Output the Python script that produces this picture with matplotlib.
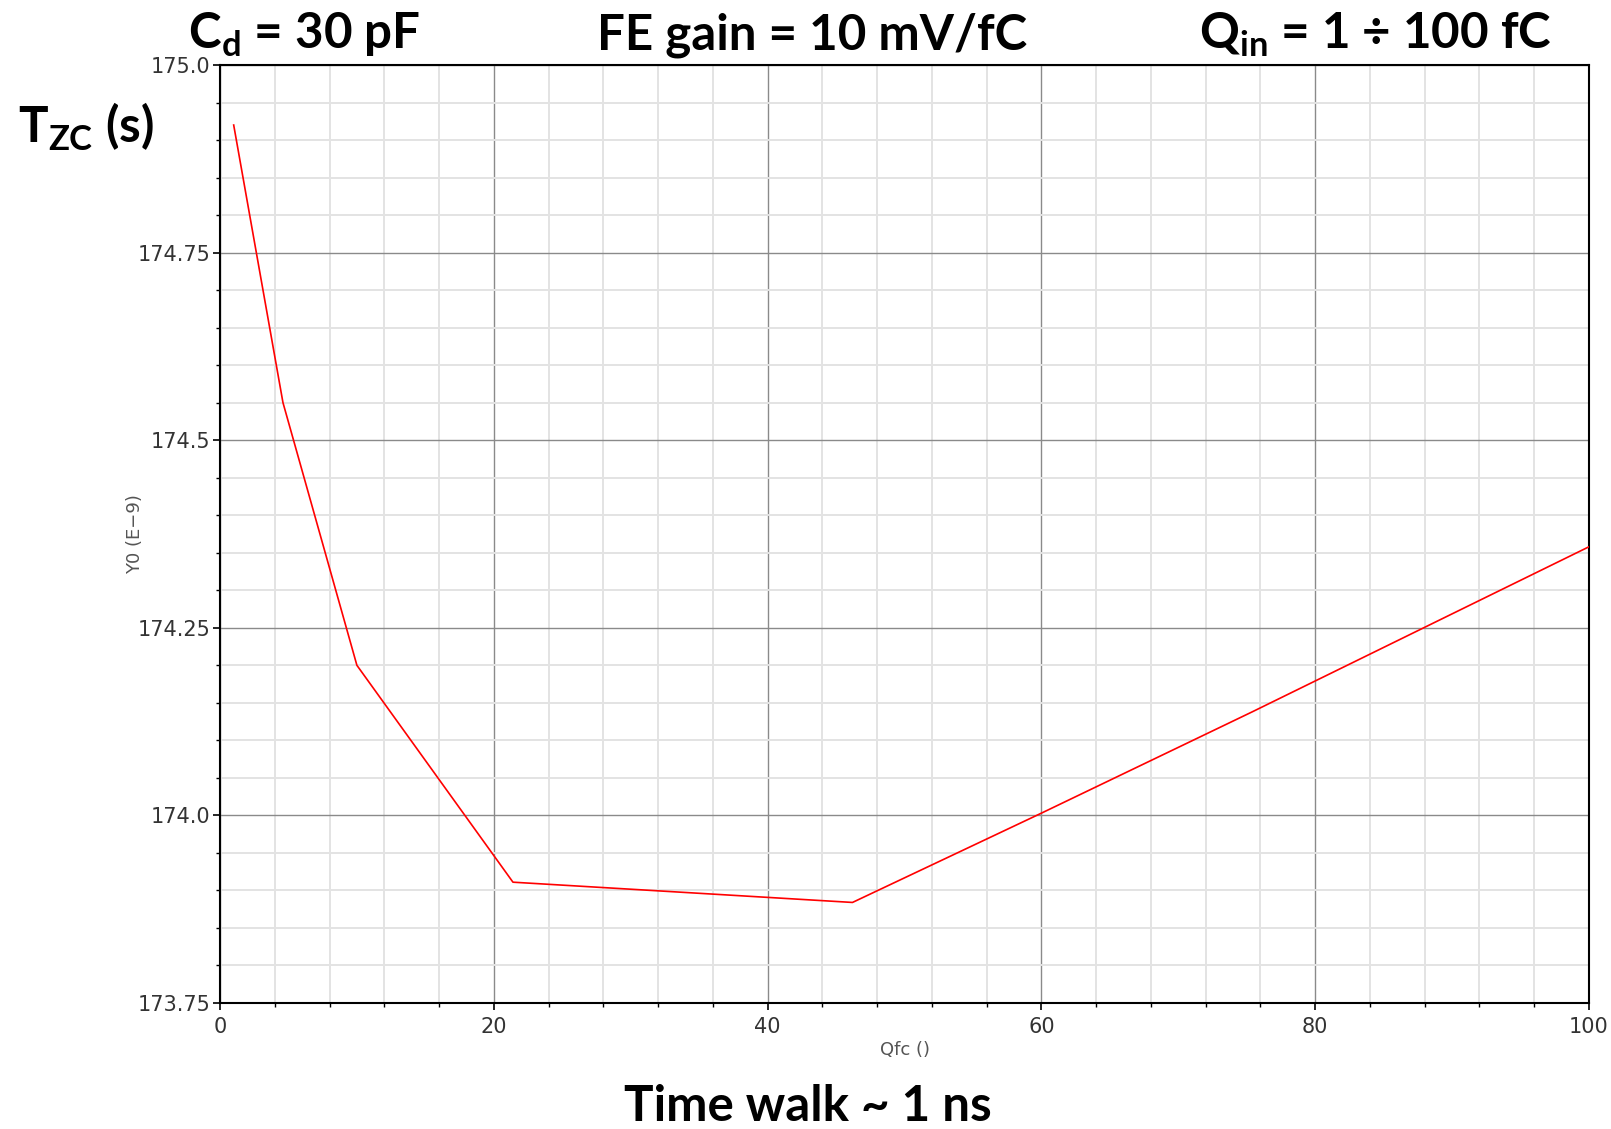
import matplotlib
matplotlib.use("Agg")
import matplotlib.pyplot as plt
from matplotlib.ticker import MultipleLocator, FixedLocator
import numpy as np

# data (charge in fC, zero-crossing time in ns)
qin = [1, 4.6, 10, 21.4, 46.2, 60, 75.4, 100]
tzc = [174.92, 174.55, 174.20, 173.911, 173.884, 174.003, 174.138, 174.358]

x_ticks = [0, 20, 40, 60, 80, 100]
y_ticks = [173.75, 174.0, 174.25, 174.5, 174.75, 175.0]
y_tick_labels = ["173.75", "174.0", "174.25", "174.5", "174.75", "175.0"]

W, H = 1611, 1129
plt.rcParams['mathtext.fontset'] = 'custom'
plt.rcParams['mathtext.rm'] = 'Lato:bold'
plt.rcParams['mathtext.bf'] = 'Lato:bold'

fig = plt.figure(figsize=(W / 100, H / 100), dpi=100)
ax = fig.add_axes([220 / W, 1 - 1003 / H, (1589 - 220) / W, (1003 - 65) / H])

ax.plot(qin, tzc, color='red', linewidth=1.2, zorder=3)

ax.set_xlim(0, 100)
ax.set_ylim(173.75, 175.0)
ax.xaxis.set_major_locator(FixedLocator(x_ticks))
ax.xaxis.set_minor_locator(MultipleLocator(4))
ax.yaxis.set_major_locator(FixedLocator(y_ticks))
ax.set_yticklabels(y_tick_labels)
ax.yaxis.set_minor_locator(MultipleLocator(0.05))

ax.grid(which='minor', color='#e3e3e3', linewidth=1.4, zorder=0)
ax.grid(which='major', color='#8a8a8a', linewidth=1.0, zorder=1)
ax.set_axisbelow(True)

for s in ax.spines.values():
    s.set_color('black')
    s.set_linewidth(1.5)

ax.tick_params(which='major', length=5, width=1.2, colors='black', labelcolor='#333333',
               labelsize=15, direction='out')
ax.tick_params(which='minor', length=3, width=1.0, colors='black', direction='out')
ax.tick_params(axis='x', pad=5)
ax.tick_params(axis='y', pad=2)

ax.set_xlabel('Qfc ()', fontsize=13, color='#555555', va='center')
ax.set_ylabel('Y0 (E\u22129)', fontsize=13, color='#555555', va='center')
ax.xaxis.set_label_coords(0.5, (1003 - 1050) / 938)
ax.yaxis.set_label_coords((135 - 220) / 1369, 0.5)

bold = dict(family='Lato', weight='bold', color='black', fontsize=35.5)

def ftext(x, y, s, **kw):
    fig.text(x / W, 1 - y / H, s, **kw)

ftext(304, 49, r'C$_\mathrm{d}$ = 30 pF', ha='center', va='baseline', **bold)
ftext(812, 49, 'FE gain = 10 mV/fC', ha='center', va='baseline', **bold)
ftext(1375, 49, r'Q$_\mathrm{in}$ = 1 ÷ 100 fC', ha='center', va='baseline', **bold)
ftext(18, 143, r'T$_\mathrm{ZC}$ (s)', ha='left', va='baseline', **bold)
ftext(808, 1121, 'Time walk ~ 1 ns', ha='center', va='baseline', **bold)

fig.savefig('out.png', dpi=100)
